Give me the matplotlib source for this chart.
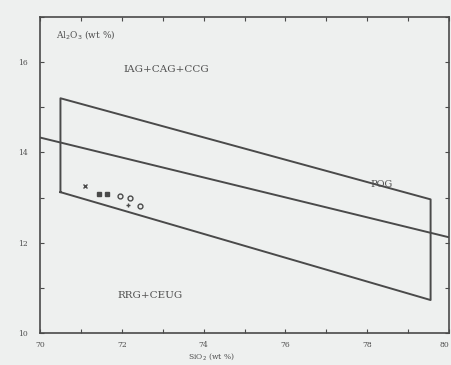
import matplotlib
matplotlib.use("Agg")
import matplotlib.pyplot as plt
import numpy as np

# Field boundaries (SiO2, Al2O3)
box_x = [70.5, 70.5, 79.55, 79.55, 70.5]
box_y = [13.12, 15.2, 12.96, 10.73, 13.12]
line_x = [70.0, 80.0]
line_y = [14.33, 12.12]

# Sample points
pts_x = [71.1, 71.45, 71.65, 71.95, 72.2, 72.15, 72.45]
pts_y = [13.25, 13.08, 13.08, 13.03, 13.0, 12.83, 12.82]
pts_m = ['x', 's', 's', 'o', 'o', '+', 'o']

x_ticks = [70, 71, 72, 73, 74, 75, 76, 77, 78, 79, 80]
x_labels = ['70', '', '72', '', '74', '', '76', '', '78', '', '80']
y_ticks = [10, 11, 12, 13, 14, 15, 16, 17]
y_labels = ['10', '', '12', '', '14', '', '16', '']

bg = '#eef0ef'
ink = '#4a4a4a'
txt = '#4f4f4f'

fig = plt.figure(figsize=(4.51, 3.65), dpi=100, facecolor=bg)
ax = fig.add_axes([40/451, 32/365, 409/451, 316/365])
ax.set_facecolor(bg)

ax.plot(box_x, box_y, color=ink, lw=1.4)
ax.plot(line_x, line_y, color=ink, lw=1.4)
for x, y, m in zip(pts_x, pts_y, pts_m):
    fill = ink if m in ('s',) else 'none'
    ax.plot(x, y, marker=m, ms=3.5, color=ink, mfc=fill, mew=1.0, linestyle='none')

ax.set_xlim(70, 80)
ax.set_ylim(10, 17)
ax.set_xticks(x_ticks)
ax.set_xticklabels(x_labels, family='DejaVu Serif')
ax.set_yticks(y_ticks)
ax.set_yticklabels(y_labels, family='DejaVu Serif')
ax.tick_params(axis='y', pad=9)
ax.tick_params(axis='x', pad=6)
ax.tick_params(direction='in', length=3, width=0.8, color=ink, labelsize=5.5,
               labelcolor=txt, top=True, right=True)
ax.get_xticklabels()[-1].set_horizontalalignment('right')
for s in ax.spines.values():
    s.set_color(ink)
    s.set_linewidth(1.2)

ax.text(70.4, 16.62, 'Al$_2$O$_3$ (wt %)', fontsize=6.5, color=txt, va='center', family='DejaVu Serif')
ax.text(73.1, 15.84, 'IAG+CAG+CCG', fontsize=7.5, color=txt, ha='center', va='center', family='DejaVu Serif')
ax.text(78.35, 13.3, 'POG', fontsize=7, color=txt, ha='center', va='center', family='DejaVu Serif')
ax.text(72.7, 10.83, 'RRG+CEUG', fontsize=7.5, color=txt, ha='center', va='center', family='DejaVu Serif')
ax.text(74.2, 9.47, 'SiO$_2$ (wt %)', fontsize=5.5, color=txt, ha='center', va='center', family='DejaVu Serif')

fig.savefig('out.png', dpi=100, facecolor=bg)
